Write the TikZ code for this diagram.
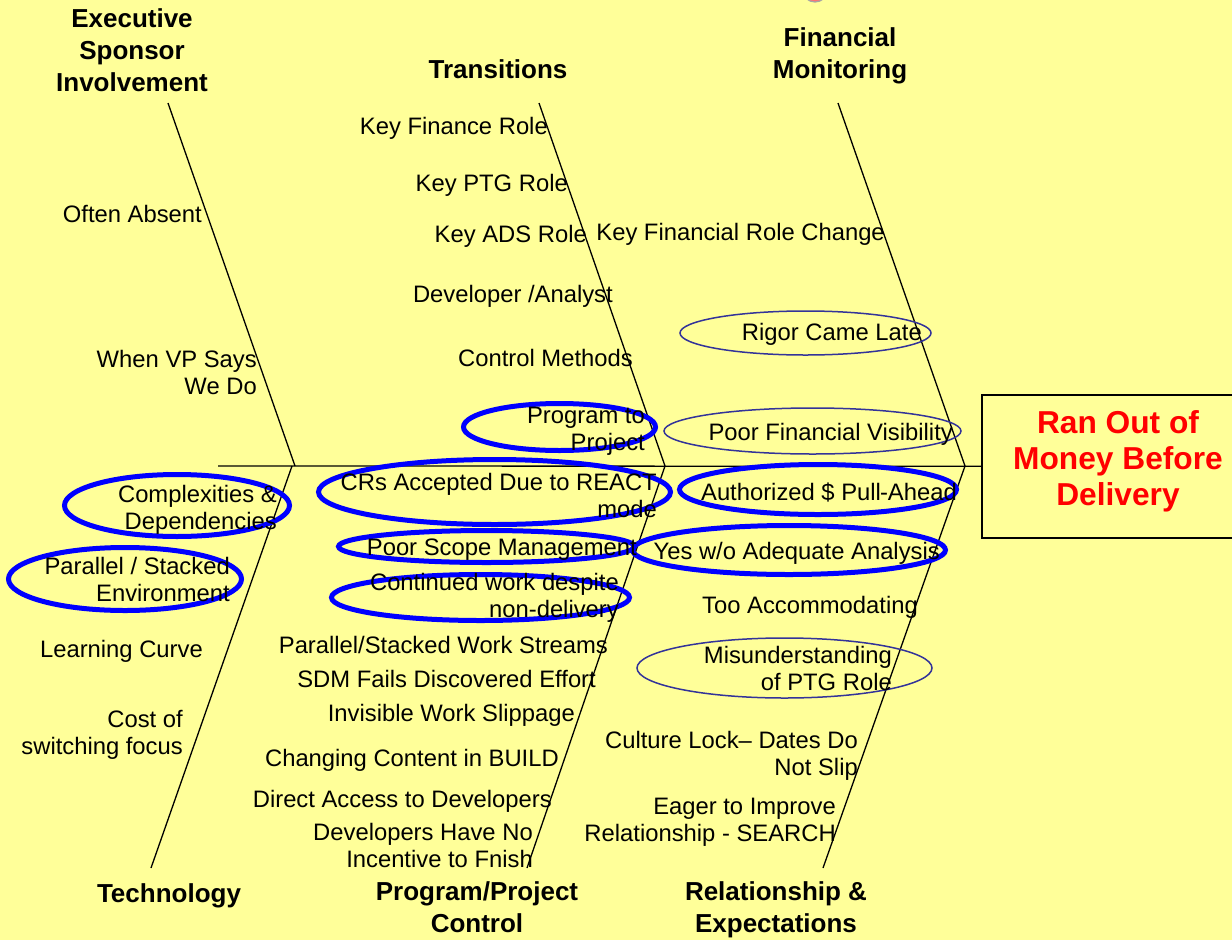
\documentclass[tikz,border=0pt]{standalone}
\usepackage{fontspec}
\setmainfont{Liberation Sans}
\definecolor{paper}{RGB}{255,255,153}
\definecolor{softblue}{RGB}{51,51,153}
\begin{document}
\begin{tikzpicture}[x=1pt,y=-1pt,
  bone/.style={line width=1.3pt, black},
  % multi-line labels are anchored at the baseline of their last line
  cause/.style={inner sep=0pt, align=right, anchor=base east,
                font=\fontsize{23.8}{26.5}\selectfont},
  head/.style={inner sep=0pt, align=center, anchor=base,
               font=\fontsize{26}{32}\selectfont\bfseries},
  hot/.style={draw=blue, line width=5pt},
  mild/.style={draw=softblue, line width=1.5pt},
]
% canvas
\clip (0,0) rectangle (1232,940);
\fill[paper] (0,0) rectangle (1232,940);

% small badge cut by the upper edge
\draw[gray!70, line width=1.2pt, fill=red!55] (815,-9) ellipse [x radius=12, y radius=11];

% effect box
\node (effect) [draw, line width=1.5pt, anchor=north west,
  minimum width=262, minimum height=143, inner sep=0pt] at (981,394) {};
\node (effecttext) [inner sep=0pt, align=center, anchor=base, text=red,
  font=\fontsize{31.7}{36}\selectfont\bfseries] at (1118,505)
  {Ran Out of\\Money Before\\Delivery};

% skeleton
\coordinate (tail) at (218,466);
\coordinate (esTop) at (168,103);   \coordinate (esJ) at (295,466);
\coordinate (teBot) at (151,868);   \coordinate (teJ) at (292,466);
\coordinate (trTop) at (539,103);   \coordinate (trJ) at (665,466);
\coordinate (ppBot) at (527,868);   \coordinate (ppJ) at (665,466);
\coordinate (fmTop) at (838,103);   \coordinate (fmJ) at (965,466);
\coordinate (reBot) at (823,868);   \coordinate (reJ) at (965,466);

\draw[bone] (tail) -- (effect.west);
\draw[bone] (esTop) -- (esJ);
\draw[bone] (teBot) -- (teJ);
\draw[bone] (trTop) -- (trJ);
\draw[bone] (ppBot) -- (ppJ);
\draw[bone] (fmTop) -- (fmJ);
\draw[bone] (reBot) -- (reJ);

% category headings
\node (hES) [head] at (132,91) {Executive\\Sponsor\\Involvement};
\node (hTR) [head] at (498,78) {Transitions};
\node (hFM) [head] at (840,78) {Financial\\Monitoring};
\node (hTE) [head] at (169,902) {Technology};
\node (hPP) [head] at (477,932) {Program/Project\\Control};
\node (hRE) [head] at (776,932) {Relationship \&\\Expectations};

% highlighted causes
\draw[hot] (559.5,427) ellipse [x radius=96, y radius=23.5];
\draw[hot] (494.5,492) ellipse [x radius=176, y radius=32.5];
\draw[hot] (486.5,546.5) ellipse [x radius=148, y radius=16];
\draw[hot] (480.5,597.5) ellipse [x radius=149, y radius=23];
\draw[hot] (818,489.5) ellipse [x radius=138.5, y radius=25];
\draw[hot] (789,550) ellipse [x radius=156.5, y radius=24.5];
\draw[hot] (177,505.5) ellipse [x radius=112.5, y radius=31];
\draw[hot] (125,579) ellipse [x radius=116.5, y radius=31.5];
\draw[mild] (805.5,333) ellipse [x radius=125.5, y radius=22];
\draw[mild] (812.5,431) ellipse [x radius=148.5, y radius=23];
\draw[mild] (784.5,668) ellipse [x radius=147.5, y radius=30];

% executive sponsor causes
\node (c1) [cause] at (202,222) {Often Absent};
\node (c2) [cause] at (257,394) {When VP Says\\We Do};

% technology causes
\node (c3) [cause] at (277,529) {Complexities \&\\Dependencies};
\node (c4) [cause] at (230,601) {Parallel / Stacked\\Environment};
\node (c5) [cause] at (203,657) {Learning Curve};
\node (c6) [cause] at (183,754) {Cost of\\switching focus};

% transitions causes
\node (c7) [cause] at (548,134) {Key Finance Role};
\node (c8) [cause] at (568,191) {Key PTG Role};
\node (c9) [cause] at (587,242) {Key ADS Role};
\node (c10) [cause] at (613,302) {Developer /Analyst};
\node (c11) [cause] at (633,366) {Control Methods};
\node (c12) [cause] at (645,450) {Program to\\Project};

% program / project control causes
\node (c13) [cause] at (657,517) {CRs Accepted Due to REACT\\mode};
\node (c14) [cause] at (637,555) {Poor Scope Management};
\node (c15) [cause] at (619,617) {Continued work despite\\non-delivery};
\node (c16) [cause] at (608,653) {Parallel/Stacked Work Streams};
\node (c17) [cause] at (596,687) {SDM Fails Discovered Effort};
\node (c18) [cause] at (575,721) {Invisible Work Slippage};
\node (c19) [cause] at (559,766) {Changing Content in BUILD};
\node (c20) [cause] at (552,807) {Direct Access to Developers};
\node (c21) [cause] at (533,867) {Developers Have No\\Incentive to Fnish};

% financial monitoring causes
\node (c22) [cause] at (885,240) {Key Financial Role Change};
\node (c23) [cause] at (922,340) {Rigor Came Late};
\node (c24) [cause] at (953,440) {Poor Financial Visibility};

% relationship causes
\node (c25) [cause] at (957,500) {Authorized \$ Pull\kern-1pt-Ahead};
\node (c26) [cause] at (940,559) {Yes w/o Adequate Analysis};
\node (c27) [cause] at (918,613) {Too Accommodating};
\node (c28) [cause] at (892,690) {Misunderstanding\\of PTG Role};
\node (c29) [cause] at (858,775) {Culture Lock– Dates Do\\Not Slip};
\node (c30) [cause] at (836,841) {Eager to Improve\\Relationship - SEARCH};
\end{tikzpicture}
\end{document}
